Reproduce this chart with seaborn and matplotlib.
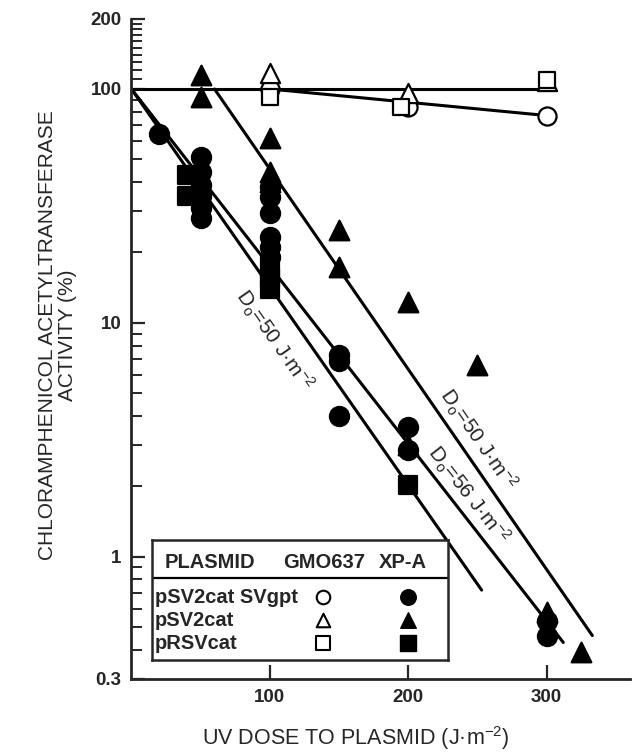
import matplotlib
matplotlib.use('Agg')
import numpy as np
import pandas as pd
import matplotlib.pyplot as plt
import seaborn as sns

sns.set_style('ticks')
plt.rcParams['font.family'] = ['Liberation Sans', 'DejaVu Sans']
plt.rcParams['mathtext.fontset'] = 'custom'
plt.rcParams['mathtext.rm'] = 'Liberation Sans'
plt.rcParams['mathtext.it'] = 'Liberation Sans:italic'
plt.rcParams['mathtext.bf'] = 'Liberation Sans:bold'

# GMO637 cells (open symbols)
gm_svgpt_dose = [100, 200, 300]
gm_svgpt_act = [100, 84, 77]
gm_sv2cat_dose = [100, 200, 300]
gm_sv2cat_act = [117, 96, 108]
gm_rsv_dose = [100, 195, 300]
gm_rsv_act = [92, 84, 109]

# XP-A cells (filled symbols)
xp_svgpt_dose = [20, 50, 50, 50, 50, 50, 50, 100, 100, 100, 100, 100, 100,
                 150, 150, 150, 200, 200, 300, 300]
xp_svgpt_act = [64, 51, 44, 39, 35, 31, 28, 38, 34.5, 29.5, 23.3, 21.1, 19.2,
                7.3, 6.9, 4.0, 3.6, 2.85, 0.53, 0.46]
xp_sv2cat_dose = [50, 50, 100, 100, 100, 150, 150, 200, 200, 250, 300, 325]
xp_sv2cat_act = [115, 92, 62, 44, 40, 25, 17.4, 12.3, 3.0, 6.6, 0.58, 0.39]
xp_rsv_dose = [40, 40, 100, 100, 100, 200]
xp_rsv_act = [43, 35, 17, 15.5, 14, 2.03]

# fitted lines (start / end)
fit_names = ['gm_flat', 'gm_svgpt', 'xp_sv2cat', 'xp_svgpt', 'xp_rsv']
fit_dose = [[0, 300], [100, 300], [60, 333], [0, 312], [0, 253]]
fit_act = [[100, 100], [100, 77], [100, 0.46], [100, 0.43], [100, 0.72]]

# D0 labels: text, line it follows, position
d0_texts = ['D$_\\mathregular{o}$=50 J·m$^\\mathregular{-2}$',
            'D$_\\mathregular{o}$=56 J·m$^\\mathregular{-2}$',
            'D$_\\mathregular{o}$=50 J·m$^\\mathregular{-2}$']
d0_lines = ['xp_sv2cat', 'xp_svgpt', 'xp_rsv']
d0_x = [250, 243, 103]
d0_y = [3.19, 1.84, 8.4]

fits = pd.DataFrame({
    'fit': np.repeat(fit_names, 2),
    'dose': np.concatenate(fit_dose),
    'activity': np.concatenate(fit_act),
})

fig = plt.figure(figsize=(6.38, 7.53), dpi=100)
ax = fig.add_axes([0.206, 0.0983, 0.781, 0.877])
ax.set_yscale('log')
ax.set_xlim(0, 360)
ax.set_ylim(0.3, 200)

sns.lineplot(data=fits, x='dose', y='activity', units='fit', estimator=None,
             color='black', lw=2.2, ax=ax, zorder=2, legend=False)

groups = [
    (gm_svgpt_dose, gm_svgpt_act, 'o', 'white', 170),
    (gm_sv2cat_dose, gm_sv2cat_act, '^', 'white', 190),
    (gm_rsv_dose, gm_rsv_act, 's', 'white', 130),
    (xp_svgpt_dose, xp_svgpt_act, 'o', 'black', 190),
    (xp_sv2cat_dose, xp_sv2cat_act, '^', 'black', 200),
    (xp_rsv_dose, xp_rsv_act, 's', 'black', 150),
]
for d, a, m, fc, s in groups:
    sns.scatterplot(x=d, y=a, marker=m, s=s, color=fc, edgecolor='black',
                    linewidth=1.6, ax=ax, zorder=3)

# D0 annotations rotated along their lines
for txt, ln, tx, ty in zip(d0_texts, d0_lines, d0_x, d0_y):
    i = fit_names.index(ln)
    p = ax.transData.transform(list(zip(fit_dose[i], fit_act[i])))
    ang = np.degrees(np.arctan2(p[1, 1] - p[0, 1], p[1, 0] - p[0, 0]))
    ax.text(tx, ty, txt, rotation=ang, rotation_mode='anchor', ha='center',
            va='center', fontsize=15)

ax.set_yticks([0.3, 1, 10, 100, 200])
ax.set_yticklabels(['0.3', '1', '10', '100', '200'])
minor = [v * k for v in (0.1, 1, 10) for k in range(2, 10)] + list(range(110, 200, 10))
ax.set_yticks([m for m in minor if 0.3 < m < 200], minor=True)
ax.set_yticklabels([], minor=True)
ax.set_xticks([100, 200, 300])
ax.tick_params(axis='both', which='major', direction='in', length=10, width=1.6,
               labelsize=13.5, pad=7)
ax.tick_params(axis='y', which='minor', direction='in', length=8, width=1.4)
ax.tick_params(axis='x', which='minor', length=0)
for lab in ax.get_xticklabels() + ax.get_yticklabels():
    lab.set_fontweight('bold')
for side in ['top', 'right']:
    ax.spines[side].set_visible(False)
for side in ['left', 'bottom']:
    ax.spines[side].set_linewidth(2)

ax.set_xlabel('UV DOSE TO PLASMID (J·m$^{\\mathregular{-2}}$)', fontsize=15.5, va='center')
ax.xaxis.set_label_coords(0.45, -0.089)
ax.set_ylabel('CHLORAMPHENICOL ACETYLTRANSFERASE\nACTIVITY (%)', fontsize=15,
              va='center', linespacing=1.05)
ax.yaxis.set_label_coords(-0.149, 0.521)

# legend table
lax = fig.add_axes([0.238, 0.1235, 0.464, 0.159])
lax.set_xlim(0, 1)
lax.set_ylim(0, 1)
lax.set_xticks([])
lax.set_yticks([])
for sp in lax.spines.values():
    sp.set_linewidth(1.8)
lax.axhline(0.683, color='black', lw=1.6)
lax.text(0.044, 0.817, 'PLASMID', fontsize=14.5, fontweight='bold', va='center')
lax.text(0.443, 0.817, 'GMO637', fontsize=14.5, fontweight='bold', va='center')
lax.text(0.767, 0.817, 'XP-A', fontsize=14.5, fontweight='bold', va='center')
row_names = ['pSV2cat SVgpt', 'pSV2cat', 'pRSVcat']
row_markers = ['o', '^', 's']
row_y = [0.525, 0.333, 0.142]
for name, m, y in zip(row_names, row_markers, row_y):
    lax.text(0.010, y, name, fontsize=14.5, fontweight='bold', va='center')
    lax.scatter([0.578], [y], marker=m, s=95, facecolor='white', edgecolor='black', linewidth=1.5)
    lax.scatter([0.865], [y], marker=m, s=125, facecolor='black', edgecolor='black')

fig.savefig('out.png', dpi=100)
